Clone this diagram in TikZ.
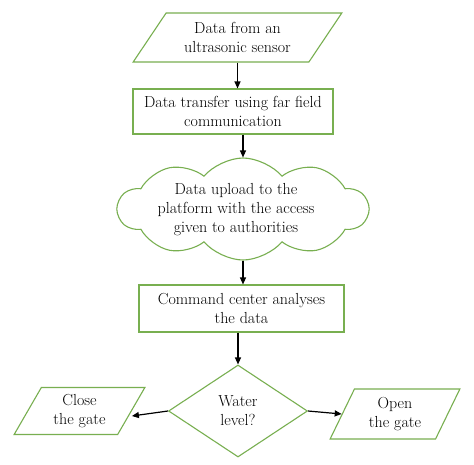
\documentclass[tikz,border=0pt]{standalone}
\usepackage{fontspec}
\usetikzlibrary{shapes.geometric,shapes.symbols,arrows.meta}
\definecolor{boxgreen}{RGB}{120,175,80}
\tikzset{
  every node/.style={font=\fontsize{16}{19}\selectfont, align=center, inner sep=0pt},
  gbox/.style={draw=boxgreen, line width=1.1pt},
  rectbox/.style={gbox, rectangle, minimum width=#1},
  para/.style={gbox, trapezium, trapezium stretches=true},
  arr/.style={draw=black, line width=1.2pt, -{Triangle[width=6pt,length=7pt]}},
}
\begin{document}
\begin{tikzpicture}[x=1pt,y=-1pt]
\useasboundingbox[fill=white] (0,0) rectangle (474,464);
\node[para, trapezium left angle=51, trapezium right angle=129, minimum width=209, minimum height=49] (p1) at (237.5,37.5) {Data from an\\ultrasonic sensor};
\node[rectbox=200, minimum height=45] (r1) at (233,111.5) {Data transfer using far field\\communication};
\node[gbox, cloud, cloud puffs=10, cloud puff arc=100, aspect=2.4, minimum width=250, minimum height=102] (c1) at (243,209) {};
\node (c1t) at (236,210) {Data upload to the\\platform with the access\\given to authorities};
\node[rectbox=205, minimum height=47] (r2) at (241.5,308.5) {Command center analyses\\the data};
\node[gbox, diamond, minimum width=139, minimum height=92] (d1) at (238,411) {};
\node (d1t) at (d1) {Water\\level?};
\node[para, trapezium left angle=61, trapezium right angle=119, minimum width=131, minimum height=47] (cl) at (79.5,411) {Close\\the gate};
\node[para, trapezium left angle=65, trapezium right angle=115, minimum width=130, minimum height=50] (op) at (395,414) {Open\\the gate};
\draw[arr] (p1.south) -- (p1.south |- r1.north);
\draw[arr] (r1.south -| c1.north) -- (c1.north);
\draw[arr] (c1.south) -- (c1.south |- r2.north);
\draw[arr] (r2.south -| d1.north) -- (d1.north);
\draw[arr] (d1.west) -- ([yshift=-5pt]cl.east);
\draw[arr] (d1.east) -- (op.west);
\end{tikzpicture}
\end{document}
